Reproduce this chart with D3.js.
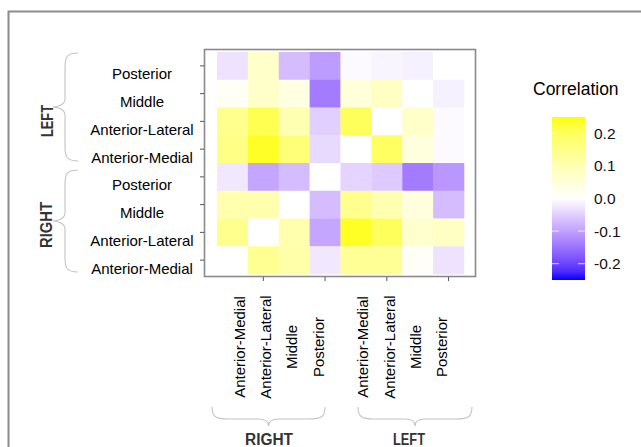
<!DOCTYPE html>
<html>
<head>
<meta charset="utf-8">
<script src="https://cdn.jsdelivr.net/npm/d3@7"></script>
<style>
  body { margin: 0; background: #fff; }
  svg { display: block; font-family: "Liberation Sans", Arial, sans-serif; }
</style>
</head>
<body>
<svg id="chart" width="641" height="447"></svg>
<script>
// Spalten (x) und Zeilen (y), jeweils Seite + Region
const colKeys = ["R-AM", "R-AL", "R-M", "R-P", "L-AM", "L-AL", "L-M", "L-P"];
const colLabels = ["Anterior-Medial", "Anterior-Lateral", "Middle", "Posterior",
                   "Anterior-Medial", "Anterior-Lateral", "Middle", "Posterior"];
const rowKeys = ["L-P", "L-M", "L-AL", "L-AM", "R-P", "R-M", "R-AL", "R-AM"];
const rowLabels = ["Posterior", "Middle", "Anterior-Lateral", "Anterior-Medial",
                   "Posterior", "Middle", "Anterior-Lateral", "Anterior-Medial"];

// Korrelationswerte, Zeile für Zeile (von oben nach unten)
const valsLP  = [-0.03, 0.07, -0.07, -0.105, -0.005, -0.01, -0.015, 0];
const valsLM  = [0.013, 0.07, 0.04, -0.14, 0.05, 0.078, 0, -0.015];
const valsLAL = [0.145, 0.21, 0.10, -0.05, 0.20, 0, 0.07, -0.005];
const valsLAM = [0.155, 0.24, 0.17, -0.04, 0, 0.195, 0.043, -0.005];
const valsRP  = [-0.025, -0.095, -0.07, 0, -0.045, -0.055, -0.14, -0.11];
const valsRM  = [0.105, 0.105, 0, -0.07, 0.145, 0.10, 0.043, -0.07];
const valsRAL = [0.145, 0, 0.105, -0.095, 0.24, 0.20, 0.065, 0.078];
const valsRAM = [0, 0.14, 0.11, -0.025, 0.135, 0.135, 0.01, -0.03];
const rowValues = [valsLP, valsLM, valsLAL, valsLAM, valsRP, valsRM, valsRAL, valsRAM];

const legendTicks = [0.2, 0.1, 0.0, -0.1, -0.2];
const groupNames = ["RIGHT", "LEFT"];

// Tabelle für die Zellen
const cells = [];
rowKeys.forEach((r, i) => colKeys.forEach((c, j) => cells.push({row: r, col: c, value: rowValues[i][j]})));

const svg = d3.select("#chart");

// Rahmen
svg.append("rect")
    .attr("x", 8.5).attr("y", 11.5)
    .attr("width", 700).attr("height", 500)
    .attr("fill", "none")
    .attr("stroke", "#8c8c8c")
    .attr("stroke-width", 2);

// Skalen
const x = d3.scaleBand().domain(colKeys).range([217, 464]);
const y = d3.scaleBand().domain(rowKeys).range([52, 274]);
const color = d3.scaleLinear()
    .domain([-0.25, 0, 0.25])
    .range(["#0000ff", "#ffffff", "#ffff00"])
    .interpolate(d3.interpolateLab)
    .clamp(true);

// Zellen
svg.append("g")
    .selectAll("rect")
    .data(cells)
    .join("rect")
    .attr("x", d => x(d.col))
    .attr("y", d => y(d.row))
    .attr("width", x.bandwidth() + 0.3)
    .attr("height", y.bandwidth() + 0.3)
    .attr("fill", d => color(d.value));

// Panel-Rahmen
svg.append("rect")
    .attr("x", 204.5).attr("y", 49.5)
    .attr("width", 271).attr("height", 227)
    .attr("fill", "none")
    .attr("stroke", "#8a8a8a")
    .attr("stroke-width", 1.6);

// Achsen-Ticks
svg.append("g")
    .selectAll("line")
    .data(rowKeys)
    .join("line")
    .attr("x1", 200).attr("x2", 204)
    .attr("y1", d => y(d) + y.bandwidth() / 2)
    .attr("y2", d => y(d) + y.bandwidth() / 2)
    .attr("stroke", "#555");

svg.append("g")
    .selectAll("line")
    .data(colKeys.filter((d, i) => i % 2 === 1))
    .join("line")
    .attr("y1", 277).attr("y2", 281)
    .attr("x1", d => x(d) + x.bandwidth() / 2)
    .attr("x2", d => x(d) + x.bandwidth() / 2)
    .attr("stroke", "#555");

// Zeilenbeschriftung
svg.append("g")
    .selectAll("text")
    .data(rowKeys)
    .join("text")
    .attr("x", 142)
    .attr("y", d => y(d) + y.bandwidth() / 2 + 8)
    .attr("text-anchor", "middle")
    .attr("dominant-baseline", "central")
    .attr("font-size", 15)
    .attr("fill", "#000")
    .text((d, i) => rowLabels[i]);

// Spaltenbeschriftung (gruppenweise etwas zusammengerückt)
const colX = (d, i) => {
    const g = i < 4 ? colKeys.slice(0, 4) : colKeys.slice(4);
    const gc = (x(g[0]) + x(g[3]) + x.bandwidth()) / 2;
    return gc + (x(d) + x.bandwidth() / 2 - gc) * 0.85;
};
svg.append("g")
    .selectAll("text")
    .data(colKeys)
    .join("text")
    .attr("transform", (d, i) => `translate(${colX(d, i)},347) rotate(-90)`)
    .attr("text-anchor", "middle")
    .attr("dominant-baseline", "central")
    .attr("font-size", 15)
    .attr("fill", "#000")
    .text((d, i) => colLabels[i]);

// Geschweifte Klammern
const braceV = (xr, xm, xt, y0, y1) => {
    const ym = (y0 + y1) / 2, r = 14;
    return `M${xr},${y0} C${xm + 2},${y0} ${xm},${y0 + 4} ${xm},${y0 + r} L${xm},${ym - 8} C${xm},${ym - 2} ${xt + 4},${ym} ${xt},${ym}` +
           ` C${xt + 4},${ym} ${xm},${ym + 2} ${xm},${ym + 8} L${xm},${y1 - r} C${xm},${y1 - 4} ${xm + 2},${y1} ${xr},${y1}`;
};
const braceH = (yt, ym, yb, x0, x1) => {
    const xc = (x0 + x1) / 2, r = 16;
    return `M${x0},${yt} C${x0},${ym - 2} ${x0 + 4},${ym} ${x0 + r},${ym} L${xc - 10},${ym} C${xc - 2},${ym} ${xc},${yb - 3} ${xc},${yb}` +
           ` C${xc},${yb - 3} ${xc + 2},${ym} ${xc + 10},${ym} L${x1 - r},${ym} C${x1 - 4},${ym} ${x1},${ym - 2} ${x1},${yt}`;
};

const braces = svg.append("g")
    .attr("fill", "none")
    .attr("stroke", "#c4c4c4")
    .attr("stroke-width", 1.1);
braces.append("path").attr("d", braceV(78, 65, 53, y("L-P") + 1, y("L-AM") + y.bandwidth() - 2));
braces.append("path").attr("d", braceV(78, 65, 53, y("R-P") + 7, y("R-AM") + y.bandwidth() - 2));
braces.append("path").attr("d", braceH(407, 419, 426, 212, 325));
braces.append("path").attr("d", braceH(407, 419, 426, 358, 472));

// Gruppenbeschriftung
const sideText = svg.append("g")
    .attr("font-weight", "bold")
    .attr("font-size", 16)
    .attr("fill", "#333");
sideText.append("text")
    .attr("transform", "translate(47,121) rotate(-90)")
    .attr("text-anchor", "middle").attr("dominant-baseline", "central")
    .attr("textLength", 32).attr("lengthAdjust", "spacingAndGlyphs")
    .text(groupNames[1]);
sideText.append("text")
    .attr("transform", "translate(46,225) rotate(-90)")
    .attr("text-anchor", "middle").attr("dominant-baseline", "central")
    .attr("textLength", 46).attr("lengthAdjust", "spacingAndGlyphs")
    .text(groupNames[0]);
sideText.append("text")
    .attr("x", 269).attr("y", 445)
    .attr("text-anchor", "middle")
    .attr("textLength", 48).attr("lengthAdjust", "spacingAndGlyphs")
    .text(groupNames[0]);
sideText.append("text")
    .attr("x", 409).attr("y", 445)
    .attr("text-anchor", "middle")
    .attr("textLength", 32).attr("lengthAdjust", "spacingAndGlyphs")
    .text(groupNames[1]);

// Legende
const ly = d3.scaleLinear().domain([-0.25, 0.25]).range([280, 117]);
const defs = svg.append("defs");
const grad = defs.append("linearGradient")
    .attr("id", "legGrad")
    .attr("x1", 0).attr("y1", 1).attr("x2", 0).attr("y2", 0);
d3.range(0, 1.0001, 0.05).forEach(t => {
    grad.append("stop")
        .attr("offset", t)
        .attr("stop-color", color(-0.25 + 0.5 * t));
});

svg.append("text")
    .attr("x", 533).attr("y", 95)
    .attr("font-size", 17.5)
    .attr("fill", "#000")
    .text("Correlation");

svg.append("rect")
    .attr("x", 552).attr("y", ly(0.25))
    .attr("width", 33).attr("height", ly(-0.25) - ly(0.25))
    .attr("fill", "url(#legGrad)");

const lt = svg.append("g")
    .selectAll("g")
    .data(legendTicks)
    .join("g");
lt.append("line")
    .attr("x1", 552).attr("x2", 559)
    .attr("y1", d => ly(d)).attr("y2", d => ly(d))
    .attr("stroke", "#fff").attr("stroke-opacity", 0.8);
lt.append("line")
    .attr("x1", 578).attr("x2", 585)
    .attr("y1", d => ly(d)).attr("y2", d => ly(d))
    .attr("stroke", "#fff").attr("stroke-opacity", 0.8);
lt.append("text")
    .attr("x", 594)
    .attr("y", d => ly(d))
    .attr("dominant-baseline", "central")
    .attr("font-size", 15.5)
    .attr("fill", "#111")
    .text(d => d3.format(".1f")(d).replace("−", "-"));
</script>
</body>
</html>
